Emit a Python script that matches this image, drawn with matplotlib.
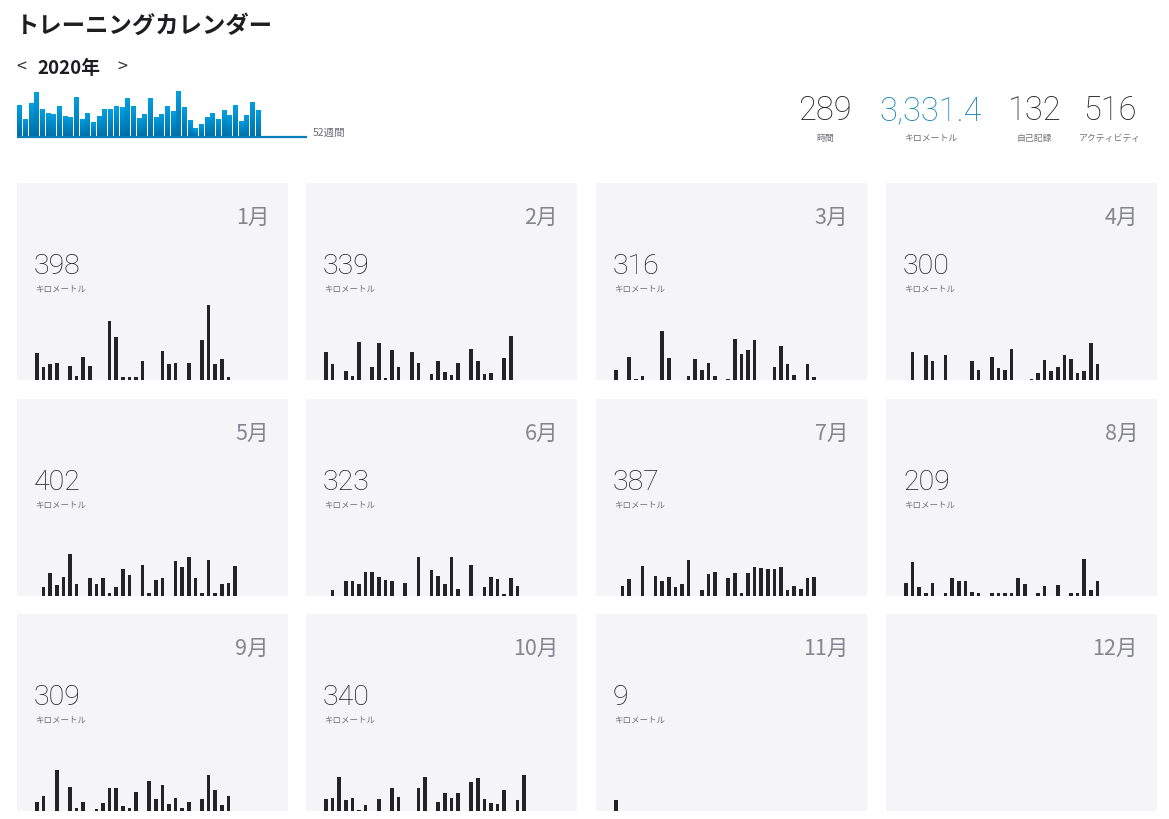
import matplotlib
matplotlib.use('Agg')
import matplotlib.pyplot as plt
import numpy as np
from matplotlib.colors import LinearSegmentedColormap

plt.rcParams['font.family'] = ['Noto Sans CJK JP', 'DejaVu Sans']

# ---------------- data ----------------
title = 'トレーニングカレンダー'
year_label = '2020年'
weeks_label = '52週間'

stat_values = ['289', '3,331.4', '132', '516']
stat_labels = ['時間', 'キロメートル', '自己記録', 'アクティビティ']

weekly_km = [94, 55, 100, 133, 82, 73, 70, 91, 64, 61, 118, 55, 73, 44, 64,
             82, 82, 91, 88, 115, 91, 58, 70, 115, 61, 70, 91, 76, 136, 88,
             50, 26, 38, 61, 73, 55, 79, 67, 94, 47, 67, 103, 79]

month_names = ['1月', '2月', '3月', '4月', '5月', '6月',
               '7月', '8月', '9月', '10月', '11月', '12月']
month_totals = ['398', '339', '316', '300', '402', '323',
                '387', '209', '309', '340', '9', None]
unit_label = 'キロメートル'

jan_km = [21.9, 10.5, 13.0, 13.8, 0, 11.3, 3.2, 18.6, 11.3, 0, 0, 47.8, 34.8, 2.4, 2.4, 2.4,
          15.4, 0, 0, 23.5, 13.0, 13.8, 0, 13.8, 0, 32.4, 60.8, 13.0, 17.0, 2.4, 0]
feb_km = [22.7, 13.0, 0, 7.3, 3.2, 30.8, 0, 10.5, 30.0, 1.6, 24.3, 10.5, 0, 22.7, 13.8,
          0, 4.9, 15.4, 6.5, 4.1, 13.8, 0, 25.1, 15.4, 4.9, 5.7, 0, 17.8, 35.6]
mar_km = [8.1, 0, 18.6, 0.8, 3.2, 0, 0, 39.7, 17.8, 0, 0, 3.2, 17.0, 8.1, 13.8, 3.2,
          0, 0.8, 33.2, 21.1, 24.3, 32.4, 0, 0, 10.5, 27.5, 13.0, 4.1, 0, 13.0, 2.4]
apr_km = [0, 22.7, 0, 20.3, 15.4, 0, 20.3, 0, 0, 0, 15.4, 8.1, 0, 18.6, 9.7,
          8.1, 25.1, 0, 0, 0.8, 5.7, 16.2, 7.3, 10.5, 20.3, 17.0, 5.7, 7.3, 30.0, 13.0]
may_km = [0, 7.3, 18.6, 8.9, 15.4, 34.0, 9.7, 0, 14.6, 9.7, 14.6, 2.4, 7.3, 21.9, 17.0,
          0, 25.1, 2.4, 13.0, 14.6, 0, 28.4, 23.5, 31.6, 14.6, 2.4, 29.2, 2.4, 9.7, 10.5, 24.3]
jun_km = [0, 4.9, 0, 12.2, 12.2, 9.7, 19.4, 19.4, 15.4, 13.0, 12.2, 0, 10.5, 0, 31.6,
          0, 21.1, 16.2, 9.7, 31.6, 5.7, 0, 25.1, 0, 7.3, 15.4, 13.8, 1.6, 14.6, 8.1]
jul_km = [0, 8.1, 13.8, 0, 24.3, 0, 16.2, 12.2, 15.4, 7.3, 9.7, 29.2, 0, 4.9, 17.8,
          19.4, 0, 14.6, 18.6, 2.4, 18.6, 23.5, 22.7, 21.9, 21.9, 23.5, 4.9, 8.1, 5.7, 14.6, 15.4]
aug_km = [10.5, 27.5, 7.3, 2.4, 10.5, 0, 2.4, 14.6, 12.2, 12.2, 3.2, 2.4, 0, 2.4, 2.4,
          2.4, 2.4, 14.6, 9.7, 0, 2.4, 8.1, 0, 8.9, 0, 2.4, 2.4, 30.0, 4.9, 12.2, 0]
sep_km = [7.6, 12.4, 0, 33.5, 0, 19.7, 2.7, 7.6, 0, 1.9, 6.8, 18.9, 18.9, 4.3, 2.7,
          15.7, 0, 24.6, 10.0, 21.3, 5.9, 10.8, 2.7, 7.6, 0, 10.0, 29.4, 17.3, 5.1, 12.4]
oct_km = [10.0, 10.8, 27.8, 9.2, 10.8, 1.1, 5.1, 0, 10.0, 0, 18.9, 11.6, 0, 0, 18.9,
          27.8, 0, 7.6, 14.9, 10.8, 14.9, 0, 23.8, 27.0, 10.0, 6.8, 5.9, 17.3, 0, 9.2, 29.4]
nov_km = [9.0] + [0] * 29
dec_km = [0] * 31

daily_km = [jan_km, feb_km, mar_km, apr_km, may_km, jun_km,
            jul_km, aug_km, sep_km, oct_km, nov_km, dec_km]

# ---------------- layout helpers ----------------
W, H = 1169, 820
fig = plt.figure(figsize=(W / 100, H / 100), dpi=100)
fig.patch.set_facecolor('white')


def ax_px(x0, y0, w, h):
    return fig.add_axes([x0 / W, 1 - (y0 + h) / H, w / W, h / H])


def text_px(x, y, s, **kw):
    return fig.text(x / W, 1 - y / H, s, **kw)


DARK = '#1e1e22'
GREY = '#6e6e78'
BLUE = '#127fba'
NUMFONT = ['Roboto', 'Noto Sans CJK JP', 'DejaVu Sans']

# ---------------- header ----------------
text_px(16, 26, title, fontsize=16.8, fontweight='bold', va='center', color=DARK)
text_px(16, 68, '<', fontsize=13, va='center', color='#333338')
text_px(37, 68, year_label, fontsize=13.5, fontweight='bold', va='center', color=DARK)
text_px(117, 68, '>', fontsize=13, va='center', color='#333338')

# weekly mini chart
wax = ax_px(17, 88, 295, 50)
weeks = np.arange(1, len(weekly_km) + 1)
bars = wax.bar(weeks, weekly_km, width=0.86, color='none', edgecolor='none')
cmap = LinearSegmentedColormap.from_list('blu', ['#006ea6', '#00a0e2'])
grad = np.linspace(0, 1, 64).reshape(-1, 1)
for b in bars:
    x0 = b.get_x()
    w = b.get_width()
    h = b.get_height()
    im = wax.imshow(grad, extent=[x0, x0 + w, 0, h], origin='lower', cmap=cmap,
                    aspect='auto', interpolation='bilinear', zorder=2)
    im.set_clip_path(b)
wax.plot([0.5, 51.7], [0, 0], color='#0a7fbe', lw=1.6, solid_capstyle='butt',
         zorder=3, clip_on=False)
wax.set_xlim(0.5, 52.5)
wax.set_ylim(0, 149)
wax.axis('off')
text_px(313, 133, weeks_label, fontsize=7.6, va='center', color=GREY)

# stats
stat_cx = [825, 931, 1034, 1110]
for i, (v, lab) in enumerate(zip(stat_values, stat_labels)):
    col = BLUE if i == 1 else DARK
    text_px(stat_cx[i], 111, v, fontsize=23.5, ha='center', va='center', color=col,
            family=NUMFONT, fontweight='light')
    text_px(stat_cx[i], 138, lab, fontsize=6.4, ha='center', va='center', color=GREY)

# ---------------- month panels ----------------
col_x = [17, 306, 596, 886]
row_y = [184, 400, 615]
pw, ph = 271, 197
day_px = 6.6
km_per_px = 0.81

for m in range(12):
    r, c = divmod(m, 4)
    ax = ax_px(col_x[c], row_y[r], pw, ph)
    ax.set_facecolor('#f5f5f7')
    vals = daily_km[m]
    days = np.arange(1, len(vals) + 1)
    ax.bar(days, vals, width=0.56, color='#232326', zorder=2)
    left = 1 - 20 / day_px
    ax.set_xlim(left, left + pw / day_px)
    ax.set_ylim(0, ph * km_per_px)
    ax.set_xticks([])
    ax.set_yticks([])
    for s in ax.spines.values():
        s.set_visible(False)
    ax.text(1 - 19 / pw, 1 - 34 / ph, month_names[m], transform=ax.transAxes,
            ha='right', va='center', fontsize=15.5, color='#85858f')
    if month_totals[m] is not None:
        ax.text(17 / pw, 1 - 83 / ph, month_totals[m], transform=ax.transAxes,
                ha='left', va='center', fontsize=20.5, color=DARK, family=NUMFONT,
                fontweight='light')
        ax.text(18 / pw, 1 - 105 / ph, unit_label, transform=ax.transAxes,
                ha='left', va='center', fontsize=6.1, color=GREY)

fig.savefig('out.png', dpi=100, facecolor='white')
